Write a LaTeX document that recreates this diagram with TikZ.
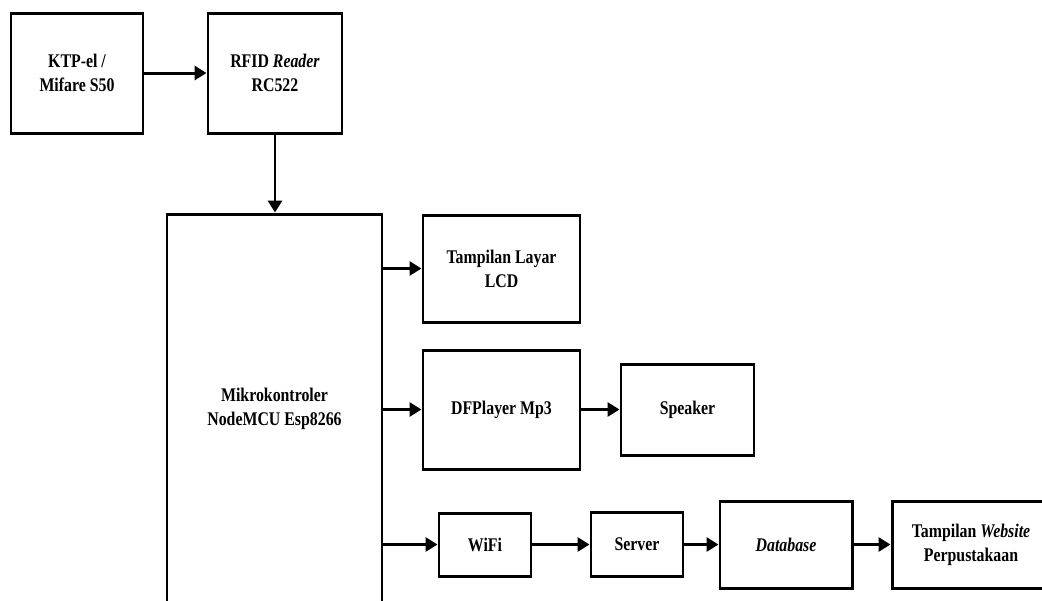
\documentclass[tikz,border=0pt]{standalone}
\usepackage{fontspec}
\setmainfont{Liberation Serif}[FakeStretch=0.82]
\usetikzlibrary{arrows.meta}
\tikzset{
  blk/.style={draw=black, line width=1.7pt, fill=white, align=center, inner sep=2pt,
    font=\fontsize{11}{13.6}\selectfont\bfseries},
  sz/.style 2 args={minimum width=#1*0.02cm, minimum height=#2*0.02cm},
  arr/.style={line width=1.7pt, -{Triangle[length=0.24cm,width=0.28cm]}}
}
\begin{document}
\begin{tikzpicture}[x=0.02cm,y=-0.02cm]
\useasboundingbox (0,0) rectangle (1042,600);
\clip (0,0) rectangle (1042,600);
\node[blk, sz={132}{120}] (ktp) at (77,73) {KTP-el /\\Mifare S50};
\node[blk, sz={134}{120}] (rfid) at (275,73) {RFID \textit{Reader}\\RC522};
\node[blk, sz={215}{390}] (mikro) at (274.5,409) {Mikrokontroler\\NodeMCU Esp8266};
\node[blk, sz={157}{107}] (lcd) at (501.5,268.5) {Tampilan Layar\\LCD};
\node[blk, sz={157}{119}] (dfp) at (501.5,409.5) {DFPlayer Mp3};
\node[blk, sz={133}{91}] (spk) at (687.5,409.5) {Speaker};
\node[blk, sz={92}{63}] (wifi) at (485,544.5) {WiFi};
\node[blk, sz={92}{64}] (server) at (637,544.5) {Server};
\node[blk, sz={132}{87}] (db) at (786,544.5) {\textit{Database}};
\node[blk, sz={158}{87}] (web) at (971,544.5) {Tampilan \textit{Website}\\Perpustakaan};
\draw[arr] (ktp) -- (rfid);
\draw[arr] (rfid.south) -- (rfid.south |- mikro.north);
\draw[arr] (mikro.east |- lcd.west) -- (lcd.west);
\draw[arr] (mikro.east |- dfp.west) -- (dfp.west);
\draw[arr] (dfp) -- (spk);
\draw[arr] (mikro.east |- wifi.west) -- (wifi.west);
\draw[arr] (wifi) -- (server);
\draw[arr] (server) -- (db);
\draw[arr] (db) -- (web);
\end{tikzpicture}
\end{document}
